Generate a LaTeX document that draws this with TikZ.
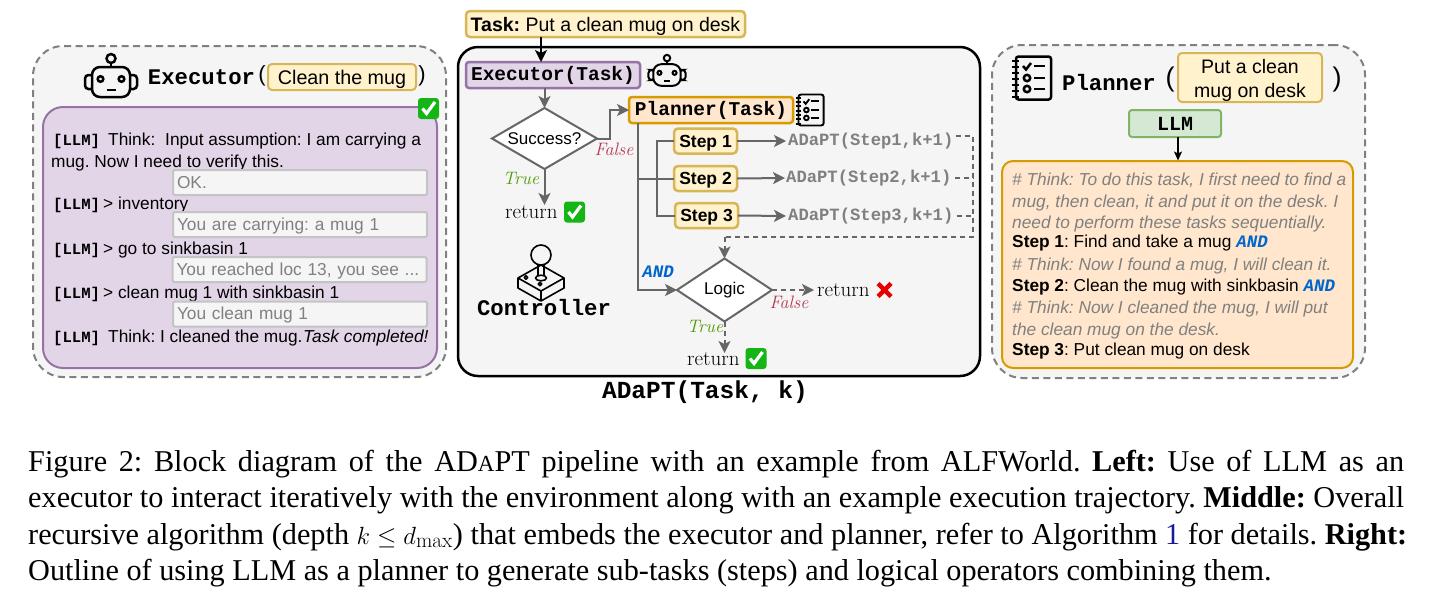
\documentclass[tikz,border=0pt]{standalone}
\usepackage{fontspec}
\setsansfont{Liberation Sans}
\setmonofont{Liberation Mono}
\newfontfamily\capfont{Liberation Serif}
\usetikzlibrary{arrows.meta,shapes.geometric}
\frenchspacing
\newcommand{\fs}[1]{\fontsize{#1}{#1}\selectfont}
\newcommand{\llmtag}{{\ttfamily\bfseries\fs{15.6}[LLM]}}
\newcommand{\andtag}{{\ttfamily\bfseries\itshape\color{andblue}\fs{17.5}AND}}
\definecolor{panelfill}{HTML}{F5F5F5}
\definecolor{panelline}{HTML}{808080}
\definecolor{purplefill}{HTML}{E1D5E7}
\definecolor{purpleline}{HTML}{9673A6}
\definecolor{yellowfill}{HTML}{FFF2CC}
\definecolor{yellowline}{HTML}{D6B656}
\definecolor{orangefill}{HTML}{FFE6CC}
\definecolor{orangeline}{HTML}{D79B00}
\definecolor{greenfill}{HTML}{D5E8D4}
\definecolor{greenline}{HTML}{82B366}
\definecolor{obsline}{HTML}{C4C4C4}
\definecolor{txtgray}{HTML}{808080}
\definecolor{flowgray}{HTML}{666666}
\definecolor{andblue}{HTML}{0066CC}
\definecolor{falsered}{HTML}{B5384F}
\definecolor{truegreen}{HTML}{4D9900}
\definecolor{emojigreen}{HTML}{14B514}
\definecolor{crossred}{HTML}{E60000}
\definecolor{linkblue}{HTML}{1A1A99}
\tikzset{
  x=1pt,y=-1pt,
  panel/.style={draw=panelline,fill=panelfill,line width=2pt,dashed,dash pattern=on 7pt off 4.5pt,rounded corners=30pt},
  boxsize/.style 2 args={minimum width=#1,minimum height=#2,inner sep=0pt,outer sep=0pt},
  purplebox/.style={draw=purpleline,fill=purplefill,line width=2.5pt,rounded corners=3pt},
  yellowbox/.style={draw=yellowline,fill=yellowfill,line width=2pt,rounded corners=4pt},
  orangebox/.style={draw=orangeline,fill=orangefill,line width=2.5pt,rounded corners=3pt},
  greenbox/.style={draw=greenline,fill=greenfill,line width=2pt,rounded corners=3pt},
  stepbox/.style={yellowbox,line width=2.5pt,font=\sffamily\bfseries\fs{17.5},boxsize={63pt}{25pt},text height=13pt,text depth=0.5pt},
  obsbox/.style={draw=obsline,fill=panelfill,line width=2pt,rounded corners=2pt,text=txtgray,font=\sffamily\fs{17.3},align=left,text width=246pt,inner xsep=4pt,inner ysep=0pt,minimum height=25pt,outer sep=0pt,text height=13pt,text depth=2pt},
  txt/.style={anchor=base west,inner sep=0pt,font=\sffamily\fs{17.3}},
  thinktxt/.style={txt,text=txtgray,font=\sffamily\itshape\fs{17.3}},
  monolabel/.style={inner sep=0pt,font=\ttfamily\bfseries\fs{22.3}},
  adapttxt/.style={anchor=west,inner sep=0pt,text=txtgray,font=\ttfamily\bfseries\fs{17.2}},
  rettxt/.style={anchor=west,inner sep=0pt,font=\rmfamily\fs{21}},
  falsetxt/.style={inner sep=0pt,text=falsered,font=\rmfamily\itshape\fs{18}},
  truetxt/.style={inner sep=0pt,text=truegreen,font=\rmfamily\itshape\fs{18}},
  decision/.style={diamond,draw=flowgray,fill=white,line width=2pt,inner sep=0pt,outer sep=0pt,font=\sffamily\fs{17}},
  flow/.style={draw=flowgray,line width=2pt,-{Stealth[length=12pt,width=12pt,inset=3pt]}},
  flowplain/.style={draw=flowgray,line width=2pt},
  flowdash/.style={flow,dash pattern=on 5pt off 4pt},
  collect/.style={draw=flowgray,line width=1.5pt,dash pattern=on 5pt off 4pt},
  inarrow/.style={draw=black,line width=2pt,-{Stealth[length=12pt,width=12pt,inset=3pt]}},
  capline/.style={anchor=base west,inner sep=0pt,font=\capfont\fs{30.25}},
  robot/.pic={
    \draw[fill=panelfill] (-26,-7) [rounded corners=3.5pt] rectangle (-17,7);
    \draw[fill=panelfill] (26,-7) [rounded corners=3.5pt] rectangle (17,7);
    \draw (0,-15) -- (0,-19);
    \draw (0,-23.5) circle (4.5);
    \draw[fill=panelfill,rounded corners=8pt] (-19,-15) rectangle (19,15);
    \draw (-10.5,-3) circle (2.8);
    \draw (10.5,-3) circle (2.8);
    \draw (-4.5,8) -- (4.5,8);
  },
  checklist/.pic={
    \draw[rounded corners=2.5pt] (-16,-21.5) rectangle (19,21.5);
    \foreach \yy in {-17,-11,-5,1,7,13,19} {\draw (-20,\yy) -- (-13,\yy);}
    \draw (-9,-12) -- (-6,-8.5) -- (-1,-15);
    \draw (2,-12) -- (13,-12);
    \draw (-5,0) circle (3.2);
    \draw (2,0) -- (13,0);
    \draw (-5,11) circle (3.2);
    \draw (2,11) -- (13,11);
  },
  greencheck/.pic={
    \fill[emojigreen,rounded corners=3pt] (-10.5,-10.5) rectangle (10.5,10.5);
    \draw[white,line width=3.2pt] (-6,0) -- (-2,5) -- (6.5,-6.5);
  },
  redcross/.pic={
    \draw[crossred,line width=4.5pt] (-6.5,-6.5) -- (6.5,6.5);
    \draw[crossred,line width=4.5pt] (-6.5,6.5) -- (6.5,-6.5);
  },
}
\begin{document}
\begin{tikzpicture}
\useasboundingbox (0,0) rectangle (1431,614);
\fill[white] (0,0) rectangle (1431,614);

% ---------- left panel
\node[panel,boxsize={413pt}{331pt}] (leftpanel) at (239.5,211.5) {};
\node[purplebox,rounded corners=20pt,boxsize={394pt}{261pt},line width=2pt] (exebox) at (240,237.5) {};
\pic[line width=2.5pt] at (111,82) {robot};
\node[monolabel] (exetitle) at (201.5,77) {Executor};
\node[inner sep=0pt,font=\sffamily\fs{22}] (exeopen) at (262,76) {(};
\node[yellowbox,boxsize={148pt}{26pt},font=\sffamily\fs{19.7},text height=15pt,text depth=0pt] (exearg) at (342,77) {Clean the mug};
\node[inner sep=0pt,font=\sffamily\fs{22}] (execlose) at (422,76) {)};
\pic at (428.5,108.5) {greencheck};

\node[txt] (a1) at (53,145) {\llmtag};
\node[txt] (a2) at (108,145) {Think:};
\node[txt] (a3) at (165,145) {Input assumption: I am carrying a};
\node[txt] (a4) at (51,167) {mug. Now I need to verify this.};
\node[obsbox] (o1) at (300,182.5) {OK.};
\node[txt] (b1) at (53,209) {\llmtag};
\node[txt] (b2) at (103,209) {> inventory};
\node[obsbox] (o2) at (300,224.5) {You are carrying: a mug 1};
\node[txt] (c1) at (53,254) {\llmtag};
\node[txt] (c2) at (103,254) {> go to sinkbasin 1};
\node[obsbox] (o3) at (299.5,269.5) {You reached loc 13, you see ...};
\node[txt] (d1) at (53,298) {\llmtag};
\node[txt] (d2) at (103,298) {> clean mug 1 with sinkbasin 1};
\node[obsbox] (o4) at (300,314) {You clean mug 1};
\node[txt] (e1) at (53,342) {\llmtag};
\node[txt] (e2) at (108,342) {Think: I cleaned the mug.};
\node[txt,font=\sffamily\itshape\fs{17.3}] (e3) at (303,342) {Task completed!};

% ---------- middle panel
\node[draw=black,fill=panelfill,line width=2.5pt,rounded corners=20pt,boxsize={522pt}{329pt}] (mainbox) at (719,211.5) {};
\node[yellowbox,line width=2.5pt,boxsize={279pt}{26pt},font=\sffamily\fs{19.5},text height=14pt,text depth=0pt] (taskbox) at (605.5,24) {\textbf{Task:} Put a clean mug on desk};
\node[purplebox,boxsize={174pt}{26pt},font=\ttfamily\bfseries\fs{19.5}] (exec) at (553,75) {Executor(Task)};
\pic[line width=2pt,scale=.72] at (667,75) {robot};
\node[decision,minimum width=105pt,minimum height=61pt,aspect=1.72] (succ) at (544.5,138.5) {Success?};
\node[orangebox,boxsize={164pt}{26pt},font=\ttfamily\bfseries\fs{19.5}] (plan) at (711,110) {Planner(Task)};
\pic[line width=1.9pt,scale=.72] at (810,110) {checklist};
\node[falsetxt] (f1) at (614,149) {False};
\node[truetxt] (t1) at (521,178) {True};
\node[rettxt] (ret1) at (505,212) {return};
\pic at (574.5,212) {greencheck};
\node[stepbox] (s1) at (705.5,141) {Step 1};
\node[stepbox] (s2) at (705.5,178.5) {Step 2};
\node[stepbox] (s3) at (706.5,215.5) {Step 3};
\node[adapttxt] (ad1) at (788,141) {ADaPT(Step1,k+1)};
\node[adapttxt] (ad2) at (786,178) {ADaPT(Step2,k+1)};
\node[adapttxt] (ad3) at (788,216) {ADaPT(Step3,k+1)};
\node[decision,minimum width=95pt,minimum height=63pt,aspect=1.5] (logic) at (724.5,290) {Logic};
\node[inner sep=0pt] (andlab) at (658,272) {\andtag};
\node[rettxt] (ret2) at (817,290) {return};
\pic at (884.5,290) {redcross};
\node[falsetxt] (f2) at (789,302) {False};
\node[truetxt] (t2) at (705,326) {True};
\node[rettxt] (ret3) at (687,359) {return};
\pic at (756,358.5) {greencheck};
\node[monolabel] (ctrl) at (544,308) {Controller};
\node[inner sep=0pt,font=\ttfamily\bfseries\fs{24.5}] (adtitle) at (705,392) {ADaPT(Task, k)};

% joystick
\begin{scope}[line width=1.6pt,line join=round]
  \draw (518,278) -- (541,265) -- (564,278) -- (541,291) -- cycle;
  \draw (518,278) -- (518,288) -- (541,301) -- (564,288) -- (564,278);
  \draw (541,291) -- (541,301);
  \draw (538,265) -- (538,276);
  \draw (544,265) -- (544,276);
  \draw (541,255) circle (10);
  \draw (541,278) ellipse (5.5 and 2.8);
  \draw (526,277.5) circle (1.8);
  \draw (540,284) circle (1.8);
\end{scope}

% connectors
\coordinate (trunk) at (638,123);
\coordinate (bus) at (657,141);
\coordinate (collectR) at (973,237);
\coordinate (collectL) at (724.5,237);
\coordinate (ret1top) at (544.5,205);
\coordinate (ret3top) at (724.5,353);
\draw[inarrow] (taskbox.south -| exec.north) ++(-12,0) -- ++(0,25);
\draw[flow] (exec.south -| succ.north) -- (succ.north);
\draw[flow] (succ.east) -- (610,138.5) |- (plan.west);
\draw[flow] (succ.south) -- (ret1top);
\draw[flow] (trunk) |- (logic.west);
\draw[flowplain] (trunk |- s2.west) -- (s2.west);
\draw[flowplain] (s1.west) -- (bus) -- (bus |- s3.west) -- (s3.west);
\draw[flow] (s1.east) -- ([xshift=-2pt]ad1.west);
\draw[flow] (s2.east) -- ([xshift=-1pt]ad2.west);
\draw[flow] (s3.east) -- ([xshift=-2pt]ad3.west);
\draw[collect] ([xshift=2pt,yshift=5pt]ad1.east) -| (collectR) -- (collectL);
\draw[collect] ([xshift=3pt]ad2.east) -- (collectR |- ad2.east);
\draw[collect] ([xshift=3pt]ad3.east) -- (collectR |- ad3.east);
\draw[flowdash] (collectL) -- (logic.north);
\draw[flowdash] (logic.east) -- ([xshift=-3pt]ret2.west);
\draw[flowdash] (logic.south) -- (ret3top);

% ---------- right panel
\node[panel,boxsize={373pt}{333pt}] (rightpanel) at (1178.5,211.5) {};
\pic[line width=2.5pt] at (1032,78) {checklist};
\node[monolabel] (plantitle) at (1109,83) {Planner};
\node[inner sep=0pt,font=\sffamily\fs{27}] (planopen) at (1170,80) {(};
\node[yellowbox,boxsize={144pt}{49pt},font=\sffamily\fs{19.5},align=center] (planarg) at (1250,77.5) {\rule{0pt}{20pt}Put a clean\\[5pt]mug on desk};
\node[inner sep=0pt,font=\sffamily\fs{27}] (planclose) at (1337,80) {)};
\node[greenbox,boxsize={92pt}{27pt},font=\ttfamily\bfseries\fs{20}] (llm) at (1175,123.5) {LLM};
\node[orangebox,line width=2pt,rounded corners=11pt,boxsize={351pt}{207pt}] (planout) at (1177.5,264.5) {};
\draw[draw=black,line width=1.3pt,-{Stealth[length=9pt,width=8pt,inset=2pt]}] (llm.south) ++(3,0) -- ++(0,23.5);

\node[thinktxt] (p1) at (1012,185) {\# Think: To do this task, I first need to find a};
\node[thinktxt] (p2) at (1012,207) {mug, then clean, it and put it on the desk. I};
\node[thinktxt] (p3) at (1012,228) {need to perform these tasks sequentially.};
\node[txt] (p4) at (1012,247) {\textbf{Step 1}: Find and take a mug \andtag};
\node[thinktxt] (p5) at (1012,270) {\# Think: Now I found a mug, I will clean it.};
\node[txt] (p6) at (1012,291) {\textbf{Step 2}: Clean the mug with sinkbasin \andtag};
\node[thinktxt] (p7) at (1012,313) {\# Think: Now I cleaned the mug, I will put};
\node[thinktxt] (p8) at (1012,335) {the clean mug on the desk.};
\node[txt] (p9) at (1012,355) {\textbf{Step 3}: Put clean mug on desk};

% ---------- caption
\node[capline] (cap1) at (28,471) {\makebox[1376pt][s]{Figure 2: Block diagram of the AD{\fs{23}A}PT pipeline with an example from ALFWorld. \textbf{Left:} Use of LLM as an}};
\node[capline] (cap2) at (28,507) {\makebox[1376pt][s]{executor to interact iteratively with the environment along with an example execution trajectory. \textbf{Middle:} Overall}};
\node[capline] (cap3) at (28,544) {\makebox[1379pt][s]{recursive algorithm (depth $k\le d_{\max}$) that embeds the executor and planner, refer to Algorithm {\color{linkblue}1} for details. \textbf{Right:}}};
\node[capline] (cap4) at (28,580) {Outline of using LLM as a planner to generate sub-tasks (steps) and logical operators combining them.};
\end{tikzpicture}
\end{document}
